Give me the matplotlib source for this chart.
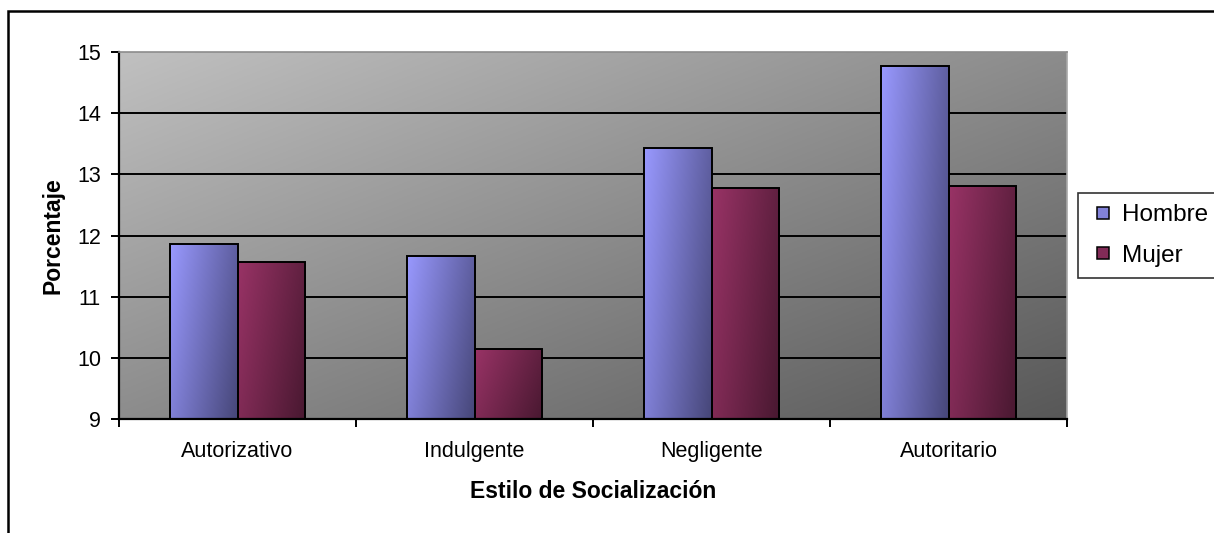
import numpy as np
import matplotlib.pyplot as plt
from matplotlib.lines import Line2D
from matplotlib.patches import Rectangle

plt.rcParams["font.family"] = ["Liberation Sans", "DejaVu Sans"]

estilos = ["Autorizativo", "Indulgente", "Negligente", "Autoritario"]
hombre = [11.86, 11.67, 13.43, 14.77]
mujer = [11.57, 10.15, 12.78, 12.81]
series = ["Hombre", "Mujer"]

# light / dark ends of the bar shading
bar_light = {"Hombre": (153, 153, 255), "Mujer": (153, 51, 102)}
bar_dark = {"Hombre": (70, 70, 120), "Mujer": (72, 24, 48)}


def shade(light, dark, wx, wy, n=120):
    u = np.linspace(0, 1, n)[None, :]
    v = np.linspace(0, 1, n)[:, None]
    t = (wx * u + wy * v) / (wx + wy)
    light = np.array(light) / 255
    dark = np.array(dark) / 255
    return light[None, None, :] * (1 - t[..., None]) + dark[None, None, :] * t[..., None]


fig = plt.figure(figsize=(12.14, 5.33), dpi=100)
ax = fig.add_axes([119 / 1214, 1 - 419 / 533, (1067 - 119) / 1214, (419 - 52) / 533])

ymin, ymax = 9, 15
xmin, xmax = -0.5, len(estilos) - 0.5
ax.set_xlim(xmin, xmax)
ax.set_ylim(ymin, ymax)

# plot area background
ax.imshow(shade((192, 192, 192), (88, 88, 88), 1, 1), extent=[xmin, xmax, ymin, ymax],
          aspect="auto", zorder=0, interpolation="bilinear")

for y in range(10, 15):
    ax.axhline(y, color="black", lw=1.4, zorder=1)

x = np.arange(len(estilos))
w = 1 / 3.5
handles = []
for name, vals, off in [("Hombre", hombre, -w / 2), ("Mujer", mujer, w / 2)]:
    bars = ax.bar(x + off, np.array(vals) - ymin, w, bottom=ymin, facecolor="none",
                  edgecolor="black", lw=1.4, zorder=3)
    for b in bars:
        x0, y0 = b.get_x(), b.get_y()
        im = ax.imshow(shade(bar_light[name], bar_dark[name], 0.7, 0.3),
                       extent=[x0, x0 + b.get_width(), y0, y0 + b.get_height()],
                       aspect="auto", zorder=2, interpolation="bilinear")
        im.set_clip_path(b)
    handles.append(Line2D([], [], ls="none", marker="s", markersize=8.5,
                          markerfacecolor=np.array(bar_light[name]) / 255 * 0.85,
                          markeredgecolor="black", markeredgewidth=1.1))
ax.set_xlim(xmin, xmax)
ax.set_ylim(ymin, ymax)

ax.set_yticks(range(9, 16))
ax.set_xticks(np.arange(-0.5, len(estilos), 1))
ax.set_xticklabels([])
ax.set_xticks(x, minor=True)
ax.set_xticklabels(estilos, minor=True)
ax.tick_params(axis="x", which="minor", length=0, pad=16, labelsize=15.5)
ax.tick_params(axis="x", which="major", length=6, width=1.4, direction="out")
ax.tick_params(axis="y", length=6, width=1.4, direction="out", pad=7, labelsize=15.5)

ax.spines["left"].set_linewidth(1.6)
ax.spines["bottom"].set_linewidth(1.6)
ax.spines["top"].set_color("#8c8c8c")
ax.spines["right"].set_color("#a8a8a8")
ax.spines["top"].set_linewidth(1.2)
ax.spines["right"].set_linewidth(1.2)

ax.set_ylabel("Porcentaje", fontsize=16.5, fontweight="bold", labelpad=9)
ax.set_xlabel("Estilo de Socialización", fontsize=16.5, fontweight="bold", labelpad=13)

leg = fig.legend(handles, series, loc="center left", bbox_to_anchor=(1078 / 1214, 1 - 235.5 / 533),
                 fontsize=17.5, frameon=True, fancybox=False, edgecolor="black",
                 handlelength=1.15, handletextpad=0.2, borderpad=0.45,
                 labelspacing=0.75, borderaxespad=0)
leg.get_frame().set_linewidth(1.2)

# outer chart border
fig.patches.append(Rectangle((8 / 1214, -0.1), 1.2, 1.1 - 11 / 533, transform=fig.transFigure,
                             fill=False, edgecolor="black", lw=1.8))

fig.savefig("out.png", dpi=100)
